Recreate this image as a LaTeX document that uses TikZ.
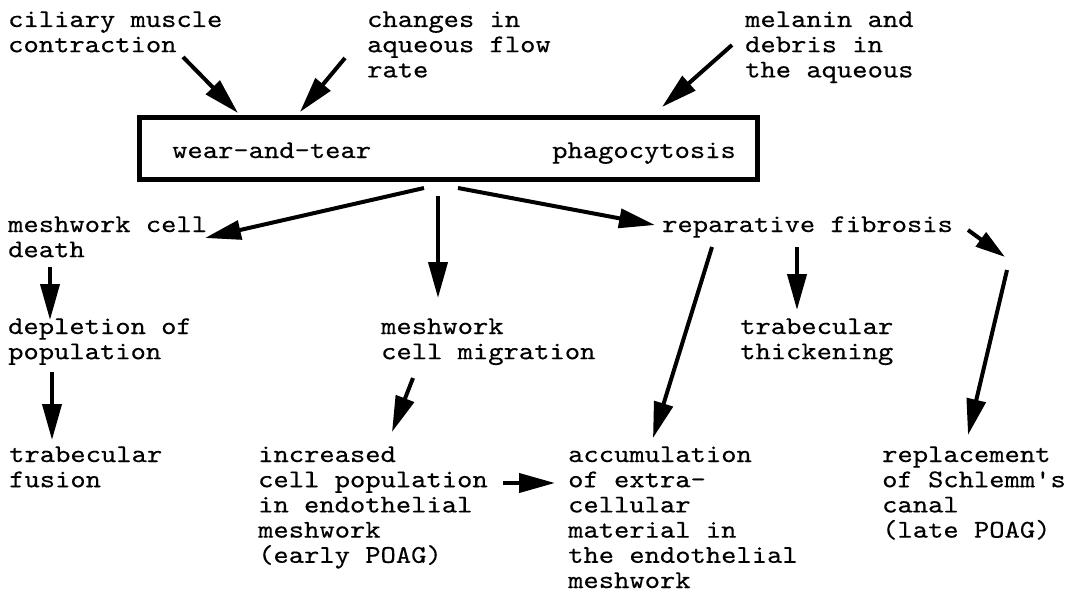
\documentclass[tikz,border=0pt]{standalone}
\usepackage{fontspec}
\newfontfamily\courfont{lmmono10-regular.otf}[FakeStretch=1.143,FakeBold=0.35]
\usetikzlibrary{arrows.meta}
\tikzset{
  txt/.style={anchor=base west, inner sep=0pt, align=left,
    font=\courfont\fontsize{25.5}{25.2}\selectfont},
  arr/.style={line width=4pt, -{Triangle[length=36pt,width=19pt]}},
  framebox/.style={draw, line width=5pt, inner sep=0pt,
    minimum width=618pt, minimum height=62pt}
}
\begin{document}
\begin{tikzpicture}[x=1pt,y=-1pt]
\useasboundingbox[fill=white] (0,0) rectangle (1070,594);
% text nodes (anchor = baseline of the last line)
\node[txt] (c1) at (8,52.2) {ciliary muscle\\contraction};
\node[txt] (c2) at (367,77.4) {changes in\\aqueous flow\\rate};
\node[txt] (c3) at (745,77.4) {melanin and\\debris in\\the aqueous};
\node[framebox] (box) at (448.5,148.5) {};
\node[txt] (wt) at (172,158) {wear-and-tear};
\node[txt] (ph) at (552,158) {phagocytosis};
\node[txt] (mcd) at (8,257.2) {meshwork cell\\death};
\node[txt] (rf) at (662,232) {reparative fibrosis};
\node[txt] (dep) at (8,359.2) {depletion of\\population};
\node[txt] (mig) at (381,359.2) {meshwork\\cell migration};
\node[txt] (tt) at (740,359.2) {trabecular\\thickening};
\node[txt] (tf) at (9,487.2) {trabecular\\fusion};
\node[txt] (inc) at (258,562.8) {increased\\cell population\\in endothelial\\meshwork\\(early POAG)};
\node[txt] (acc) at (568,588) {accumulation\\of extra-\\cellular\\material in\\the endothelial\\meshwork};
\node[txt] (rep) at (882,537.6) {replacement\\of Schlemm's\\canal\\(late POAG)};
% connector end points
\coordinate (c1s) at (183,57);   \coordinate (c1e) at (238,113);
\coordinate (c2s) at (345,58);   \coordinate (c2e) at (300,112);
\coordinate (c3s) at (732,45);   \coordinate (c3e) at (662,107);
\coordinate (bl) at (424,188);   \coordinate (mcde) at (205,238);
\coordinate (bm) at (438,196);   \coordinate (mige) at (438,298);
\coordinate (br) at (458,188);   \coordinate (rfe) at (655,225);
\coordinate (mcds) at (50,267);  \coordinate (depe) at (50,320);
\coordinate (deps) at (52,372);  \coordinate (tfe) at (52,440);
\coordinate (migs) at (413,378); \coordinate (ince) at (392,432);
\coordinate (rfs1) at (712,247); \coordinate (acce) at (653,438);
\coordinate (rfs2) at (797,247); \coordinate (tte) at (797,310);
\coordinate (rfs3) at (968,230); \coordinate (mid) at (1005,257);
\coordinate (mids) at (1007,270); \coordinate (repe) at (968,435);
\coordinate (incs) at (503,483); \coordinate (acce2) at (555,483);
% connectors
\draw[arr] (c1s) -- (c1e);
\draw[arr] (c2s) -- (c2e);
\draw[arr] (c3s) -- (c3e);
\draw[arr] (bl) -- (mcde);
\draw[arr] (bm) -- (mige);
\draw[arr] (br) -- (rfe);
\draw[arr] (mcds) -- (depe);
\draw[arr] (deps) -- (tfe);
\draw[arr] (migs) -- (ince);
\draw[arr] (rfs1) -- (acce);
\draw[arr] (rfs2) -- (tte);
\draw[arr,-{Triangle[length=30pt,width=17pt]}] (rfs3) -- (mid);
\draw[arr] (mids) -- (repe);
\draw[arr] (incs) -- (acce2);
\end{tikzpicture}
\end{document}
